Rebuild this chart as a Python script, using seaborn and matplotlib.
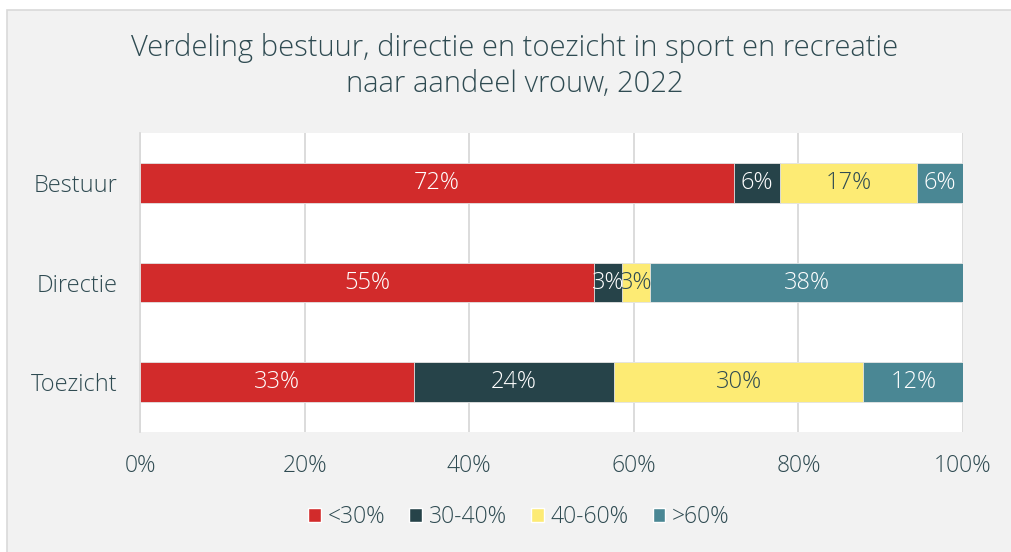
import matplotlib
matplotlib.use("Agg")
import matplotlib.pyplot as plt
from matplotlib.patches import Rectangle
import seaborn as sns
import numpy as np
import pandas as pd

# Data: share of boards/management/supervisory bodies by female share, 2022
categories = ["Bestuur", "Directie", "Toezicht"]
groups = ["<30%", "30-40%", "40-60%", ">60%"]
lt30 = [72.2, 55.2, 33.3]
p30_40 = [5.6, 3.4, 24.3]
p40_60 = [16.6, 3.4, 30.3]
gt60 = [5.6, 38.0, 12.1]

colors = ["#d22b2b", "#264349", "#fdeb74", "#4a8794"]
label_colors = ["white", "white", "#2f4b52", "white"]
text_color = "#2f4b52"

sns.set_theme(style="white")
plt.rcParams["font.family"] = ["Open Sans", "DejaVu Sans"]
plt.rcParams["font.weight"] = "light"

df = pd.DataFrame({"cat": categories, "<30%": lt30, "30-40%": p30_40,
                   "40-60%": p40_60, ">60%": gt60})
cum = df[groups].cumsum(axis=1)

fig = plt.figure(figsize=(10.11, 5.52), dpi=100)
fig.patch.set_facecolor("white")
fig.patches.append(Rectangle((7 / 1011, -0.05), 1.1, 1 - 10 / 552 + 0.05,
                             transform=fig.transFigure, facecolor="#f2f2f2",
                             edgecolor="#d9d9d9", linewidth=1.2, zorder=-10))

ax = fig.add_axes([140 / 1011, 1 - 432 / 552, 823 / 1011, 299 / 552])
ax.set_facecolor("white")

# Stacked bars: draw cumulative totals from the widest down
for g, c in reversed(list(zip(groups, colors))):
    sns.barplot(x=cum[g], y=df["cat"], orient="h", color=c, saturation=1,
                width=0.4, edgecolor="#e6e6e6", linewidth=0.6, ax=ax, zorder=3)

# Segment labels
for i in range(len(categories)):
    start = 0.0
    for g, lc in zip(groups, label_colors):
        v = df.loc[i, g]
        ax.text(start + v / 2, i, f"{v:.0f}%", ha="center", va="center",
                color=lc, fontsize=17, zorder=5)
        start += v

ax.set_xlim(0, 100)
ax.set_ylim(2.5, -0.5)
ax.set_xticks(np.arange(0, 101, 20))
ax.set_xticklabels([f"{t}%" for t in range(0, 101, 20)])
ax.xaxis.grid(True, color="#d9d9d9", linewidth=1.3, zorder=0)
ax.set_axisbelow(True)
for s in ["top", "right", "bottom"]:
    ax.spines[s].set_visible(False)
ax.spines["left"].set_color("#d9d9d9")
ax.spines["left"].set_linewidth(1.3)
ax.set_xlabel("")
ax.set_ylabel("")
ax.tick_params(axis="x", length=0, pad=16, labelsize=16.5, labelcolor=text_color)
ax.tick_params(axis="y", length=0, pad=16, labelsize=17, labelcolor=text_color)

fig.text(515 / 1011, 1 - 66 / 552,
         "Verdeling bestuur, directie en toezicht in sport en recreatie\nnaar aandeel vrouw, 2022",
         ha="center", va="center", fontsize=21, color=text_color, linespacing=1.32)

handles = [Rectangle((0, 0), 1, 1, facecolor=c) for c in colors]
fig.legend(handles, groups, loc="center", bbox_to_anchor=(519 / 1011, 1 - 517 / 552),
           ncol=4, frameon=False, fontsize=16.5, labelcolor=text_color,
           handlelength=0.55, handleheight=0.55, handletextpad=0.3,
           columnspacing=1.05)

fig.savefig("out.png", dpi=100, facecolor=fig.get_facecolor())
